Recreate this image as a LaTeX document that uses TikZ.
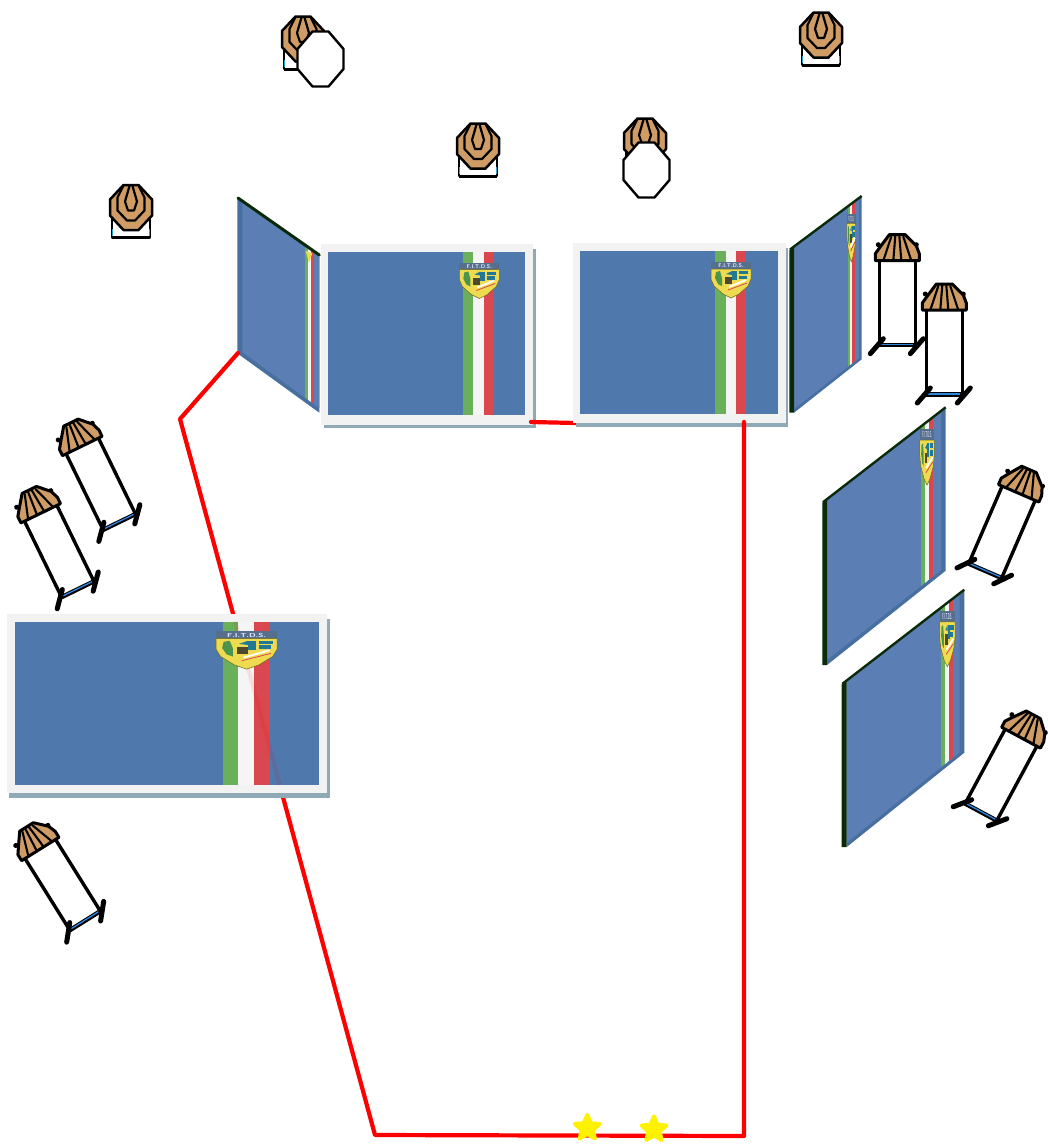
\documentclass[tikz,border=0pt]{standalone}
\usetikzlibrary{shapes.geometric}
\definecolor{frontblue}{HTML}{4F78AD}
\definecolor{skewblue}{HTML}{5B7FB5}
\definecolor{bandblue}{HTML}{476FA0}
\definecolor{darkedge}{HTML}{0A2A0A}
\definecolor{flaggreen}{HTML}{6AAF5A}
\definecolor{flagred}{HTML}{D9484F}
\definecolor{flagwhite}{HTML}{F5F5F5}
\definecolor{frameg}{HTML}{F2F2F2}
\definecolor{shadowg}{HTML}{8FAAB6}
\definecolor{tan}{HTML}{CF9C66}
\definecolor{footblue}{HTML}{2E86DE}
\definecolor{tickblue}{HTML}{2BA0C8}
\definecolor{shieldy}{HTML}{EFDB50}
\definecolor{hdrblue}{HTML}{566F8C}
\tikzset{
  x=1pt,y=-1pt,
  redline/.style={draw=red,line width=4.2pt,line join=round,line cap=round},
  starmark/.style={star,star points=5,star point ratio=2.2,fill=yellow,draw=yellow,line width=4pt,line join=round,inner sep=0pt,minimum size=26pt},
  ink/.style={draw=black,line join=round,line cap=round},
  frontface/.pic={
    \fill[white] (-19,0) rectangle (19,30);
    \draw[ink,line width=2.4pt] (-19,0) -- (-19,30) -- (19,30) -- (19,0);
    \draw[black,line width=3pt] (-19,30) -- (19,30);
    \draw[tickblue,line width=1.3pt] (-18.8,21) -- (-18.8,28);
    \draw[tickblue,line width=1.3pt] (18.8,21) -- (18.8,28);
    \filldraw[ink,fill=tan,line width=2.5pt] (-7.5,-22.5) -- (7.5,-22.5) -- (21,-8) -- (21,8) -- (7.5,22.5) -- (-7.5,22.5) -- (-21,8) -- (-21,-8) -- cycle;
    \draw[ink,line width=2.2pt] (-7.5,-22) -- (-13.5,-10) -- (-13.5,3) -- (-4,13) -- (4,13) -- (13.5,3) -- (13.5,-10) -- (7.5,-22);
    \draw[ink,line width=2.2pt] (-1.5,-21.5) -- (-6,-6) -- (-3,3) -- (3,3) -- (6,-6) -- (1.5,-21.5);
  },
  blankoct/.pic={
    \filldraw[ink,fill=white,line width=2.4pt] (-8,-27.5) -- (8,-27.5) -- (23,-10) -- (23,10) -- (8,27.5) -- (-8,27.5) -- (-23,10) -- (-23,-10) -- cycle;
  },
  sideview/.pic={
    \draw[black,line width=3.4pt] (-18,0) -- (-18,84);
    \draw[black,line width=3.4pt] (18,0) -- (18,84);
    \draw[black,line width=4.4pt] (-18,84.5) -- (18,84.5);
    \draw[footblue,line width=1.3pt] (-16,84) -- (16,84);
    \draw[black,line width=5pt,line cap=round] (-27,93) -- (-14,78);
    \draw[black,line width=5pt,line cap=round] (13,93) -- (26,78);
    \fill[black] (-19,-16) circle (2.5pt) (19,-16) circle (2.5pt);
    \filldraw[ink,fill=tan,line width=3pt] (-22,0) -- (-22,-7) -- (-17,-14) -- (-8,-26) -- (8,-26) -- (19,-15) -- (22,-7) -- (22,0) -- cycle;
    \draw[ink,line width=2.1pt] (-14,0) -- (-6,-24);
    \draw[ink,line width=2.1pt] (-4,0) -- (-2,-25);
    \draw[ink,line width=2.1pt] (4,0) -- (2,-25);
    \draw[ink,line width=2.1pt] (14,0) -- (6,-24);
  },
  badge/.pic={
    \fill[hdrblue] (-20,0) rectangle (20,7);
    \filldraw[draw=olive!70!black,fill=shieldy,line width=.5pt] (-20,7) -- (20,7) -- (20,17) -- (17,24) -- (8,32) -- (0,36) -- (-8,32) -- (-17,24) -- (-20,17) -- cycle;
    \fill[green!40!black!70] (-15,10) -- (-11,9) -- (-9,16) -- (-9,24) -- (-13,22) -- (-16,16) -- cycle;
    \fill[tickblue!75!black] (1,9) rectangle (6,18);
    \fill[tickblue!75!black] (8,9) rectangle (17,12);
    \fill[tickblue!75!black] (8,13.5) rectangle (16,17);
    \fill[tickblue!75!black] (-5,12) -- (1,9) -- (1,13) -- cycle;
    \fill[black!60!olive] (-6,15) rectangle (1,22);
    \draw[white,line width=1.8pt] (-2,25) -- (15,18);
    \draw[flagred,line width=.8pt] (-3,28) -- (16,21);
    \node[transform shape,text=white!90!blue,font=\sffamily\bfseries\fontsize{5.5}{5.5}\selectfont,inner sep=0pt] (-label) at (0,3.6) {F.I.T.D.S.};
  }
}
\begin{document}
\begin{tikzpicture}
\useasboundingbox (0,0) rectangle (1048,1146);
\fill[white] (0,0) rectangle (1048,1146);

% named corners of the red course line
\coordinate (c1) at (238,353);
\coordinate (c2) at (180,419);
\coordinate (c3) at (375,1135);
\coordinate (c4) at (744,1136);
\coordinate (c5) at (744,422);
\coordinate (c6) at (531,422);
\coordinate (c7) at (576,423);

% front targets
\pic (t1) at (303,39) {frontface};
\pic (t2) at (478,146) {frontface};
\pic (t3) at (131,207.5) {frontface};
\pic (t4) at (821,35) {frontface};
\pic (t5) at (645,141) {frontface};
\pic (n1) at (320.5,59) {blankoct};
\pic (n2) at (646.5,170) {blankoct};

% side targets
\pic (s1) at (897.3,260.7) {sideview};
\pic (s2) at (944.3,310) {sideview};
\pic[rotate=26] (s3) at (82.3,446) {sideview};
\pic[rotate=26] (s4) at (40.7,513.3) {sideview};
\pic[rotate=32] (s5) at (40.3,849) {sideview};
\pic[rotate=-23.4] (s6) at (1018.7,493.3) {sideview};
\pic[rotate=-28.3] (s7) at (1021,737.7) {sideview};

% left skew panel
\fill[bandblue] (237.3,197.3) -- (319.3,255) -- (319.3,412.7) -- (237.3,353.3) -- cycle;
\begin{scope}
  \clip (242.3,200.8) -- (319.3,255) -- (319.3,408) -- (242.3,352) -- cycle;
  \fill[skewblue] (230,190) rectangle (330,420);
  \fill[flaggreen] (305,190) rectangle (308.3,420);
  \fill[flagwhite] (308.3,190) rectangle (310.7,420);
  \fill[flagred] (310.7,190) rectangle (314,420);
\end{scope}
\draw[darkedge,line width=3pt,line cap=round] (238,198) -- (319.3,255);
\fill[shieldy] (305.7,251) -- (312.3,253.3) -- (309,262.7) -- cycle;

% front panels
\fill[shadowg] (324,249) rectangle (536,428);
\fill[frameg] (321,244) rectangle (533,425);
\fill[frontblue] (328,252) rectangle (525,415);
\fill[flaggreen] (463.3,252) rectangle (473.3,415);
\fill[flagwhite] (473.3,252) rectangle (484,415);
\fill[flagred] (484,252) rectangle (494,415);
\pic (b1) at (479.3,262.5) {badge};

\draw[redline] (c6) -- (c7);

\fill[shadowg] (576,248) rectangle (788,427);
\fill[frameg] (573,243) rectangle (786,423);
\fill[frontblue] (580,251) rectangle (778,414);
\fill[flaggreen] (715.3,251) rectangle (725.7,414);
\fill[flagwhite] (725.7,251) rectangle (736,414);
\fill[flagred] (736,251) rectangle (746,414);
\pic (b2) at (731,262) {badge};

% red course
\draw[redline] (c1) -- (c2) -- (c3) -- (c4) -- (c5);

% large left panel
\fill[shadowg] (9.3,619) rectangle (330,798.3);
\fill[frameg] (7.3,614) rectangle (327,793.3);
\fill[frontblue] (15,622) rectangle (319,785);
\fill[flaggreen] (222.7,622) rectangle (238.3,785);
\fill[flagwhite] (238.3,622) rectangle (254,785);
\fill[flagred] (254,622) rectangle (270,785);
\draw[red,opacity=.1,line width=4pt] (235.5,622) -- (280,785);
\pic[xscale=1.53,yscale=1.05] (b3) at (246.6,631.3) {badge};

% right skew panels
\fill[bandblue] (794,246.3) -- (861.7,196) -- (861.7,359.3) -- (794,412.7) -- cycle;
\begin{scope}
  \clip (794,246.3) -- (859,198) -- (859,358) -- (794,409) -- cycle;
  \fill[skewblue] (785,190) rectangle (865,420);
  \fill[flaggreen] (848,190) rectangle (850.3,420);
  \fill[flagwhite] (850.3,190) rectangle (852,420);
  \fill[flagred] (852,190) rectangle (855.3,420);
\end{scope}
\fill[darkedge] (789.3,250) -- (794,246.3) -- (794,412.7) -- (789.3,412.7) -- cycle;
\draw[darkedge,line width=2.4pt] (790,249.5) -- (861.7,196);
\pic[xscale=.22,yscale=1.33] (b4) at (851.3,214) {badge};

\fill[bandblue] (827,499) -- (945.7,407.3) -- (945.7,570.7) -- (827,665) -- cycle;
\begin{scope}
  \clip (827,499) -- (941,411) -- (941,570.3) -- (827,660) -- cycle;
  \fill[skewblue] (820,400) rectangle (950,670);
  \fill[flaggreen] (921.3,400) rectangle (925.3,670);
  \fill[flagwhite] (925.3,400) rectangle (929,670);
  \fill[flagred] (929,400) rectangle (933,670);
\end{scope}
\fill[darkedge] (822.3,502.7) -- (827,499) -- (827,665) -- (822.3,665) -- cycle;
\draw[darkedge,line width=2.4pt] (823,502.2) -- (945.7,407.3);
\pic[xscale=.365,yscale=1.55] (b5) at (927,429.3) {badge};

\fill[bandblue] (846.7,680.6) -- (964.3,589.7) -- (964.3,752.7) -- (846.7,847) -- cycle;
\begin{scope}
  \clip (846.7,680.6) -- (959.7,593.2) -- (959.7,752.4) -- (846.7,842.5) -- cycle;
  \fill[skewblue] (840,585) rectangle (970,850);
  \fill[flaggreen] (941,585) rectangle (945,850);
  \fill[flagwhite] (945,585) rectangle (949,850);
  \fill[flagred] (949,585) rectangle (953,850);
\end{scope}
\fill[darkedge] (841.7,684.3) -- (846.7,680.6) -- (846.7,847) -- (841.7,847) -- cycle;
\draw[darkedge,line width=2.4pt] (842.4,683.8) -- (964.3,589.7);
\pic[xscale=.385,yscale=1.55] (b6) at (947.3,611) {badge};

% stars
\node[starmark] (star1) at (587.3,1128) {};
\node[starmark] (star2) at (654,1129.5) {};
\end{tikzpicture}
\end{document}
